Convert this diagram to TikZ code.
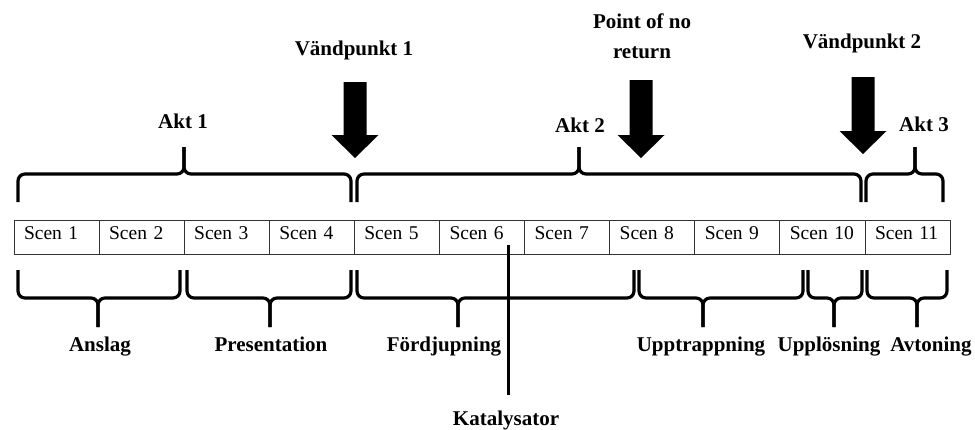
\documentclass[tikz,border=0pt]{standalone}
\usepackage{fontspec}
\setmainfont{Liberation Serif}
\usetikzlibrary{positioning}
\tikzset{
  scen/.style={draw=black!80, line width=1pt, outer sep=0pt, text width=65.1pt,
    inner xsep=10pt, inner ysep=0pt, text height=19pt, text depth=15pt,
    align=left, font=\fontsize{19.5}{22}\selectfont},
  lab/.style={font=\fontsize{21}{30}\selectfont\bfseries, inner sep=0pt, align=center},
  klam/.style={line width=3.2pt, rounded corners=7pt},
}
\newcommand{\klammer}[6]{%
  \draw[klam] (#1,#4) -- (#1,#5) -- (#3,#5) -- (#3,#6);
  \draw[klam] (#2,#4) -- (#2,#5) -- (#3,#5) -- (#3,#6);}
\newcommand{\pfeil}[3]{%
  \fill (#1-11.5,#2) -- (#1+11.5,#2) -- (#1+11.5,#3-23) -- (#1+23.5,#3-23)
    -- (#1,#3) -- (#1-23.5,#3-23) -- (#1-11.5,#3-23) -- cycle;}

\begin{document}
\begin{tikzpicture}[x=1pt, y=-1pt]
  \useasboundingbox (0,0) rectangle (975,429);

  \node[scen, anchor=north west] (s1) at (14,220) {Scen 1};
  \foreach \i [count=\j from 1] in {2,...,11}
    \node[scen, right=0pt of s\j] (s\i) {Scen \i};

  \node[lab, anchor=base] (akt1) at (183,128) {Akt 1};
  \node[lab, anchor=base] (akt2) at (580,132) {Akt 2};
  \node[lab, anchor=base] (akt3) at (924,131) {Akt 3};
  \node[lab, anchor=base] (vp1) at (354,55) {Vändpunkt 1};
  \node[lab, anchor=base] (vp2) at (862,48) {Vändpunkt 2};
  \node[lab] (ponr) at (642,36) {Point of no\\return};

  \klammer{18}{351}{184}{202}{174}{147}
  \klammer{357}{861}{579}{202}{174}{147}
  \klammer{866}{943}{915}{202}{174}{147}

  \pfeil{355}{82}{158}
  \pfeil{641}{80}{158}
  \pfeil{863}{77}{154}

  \klammer{18}{180}{98}{270}{298}{327}
  \klammer{187}{351}{270}{270}{298}{327}
  \klammer{357}{634}{458}{270}{298}{327}
  \klammer{639}{803}{703}{270}{298}{327}
  \klammer{808}{862}{834}{270}{298}{327}
  \klammer{867}{947}{917}{270}{298}{327}

  \node[lab, anchor=base] (anslag) at (100,351) {Anslag};
  \node[lab, anchor=base] (pres) at (271,351) {Presentation};
  \node[lab, anchor=base] (ford) at (444,351) {Fördjupning};
  \node[lab, anchor=base] (upptr) at (701,351) {Upptrappning};
  \node[lab, anchor=base] (upplos) at (829,351) {Upplösning};
  \node[lab, anchor=base] (avton) at (931,351) {Avtoning};
  \node[lab, anchor=base] (kat) at (506,425) {Katalysator};

  \coordinate (katstart) at (508,245);
  \draw[line width=3pt, shorten >=15pt] (katstart) -- (katstart |- kat.north);
\end{tikzpicture}
\end{document}
